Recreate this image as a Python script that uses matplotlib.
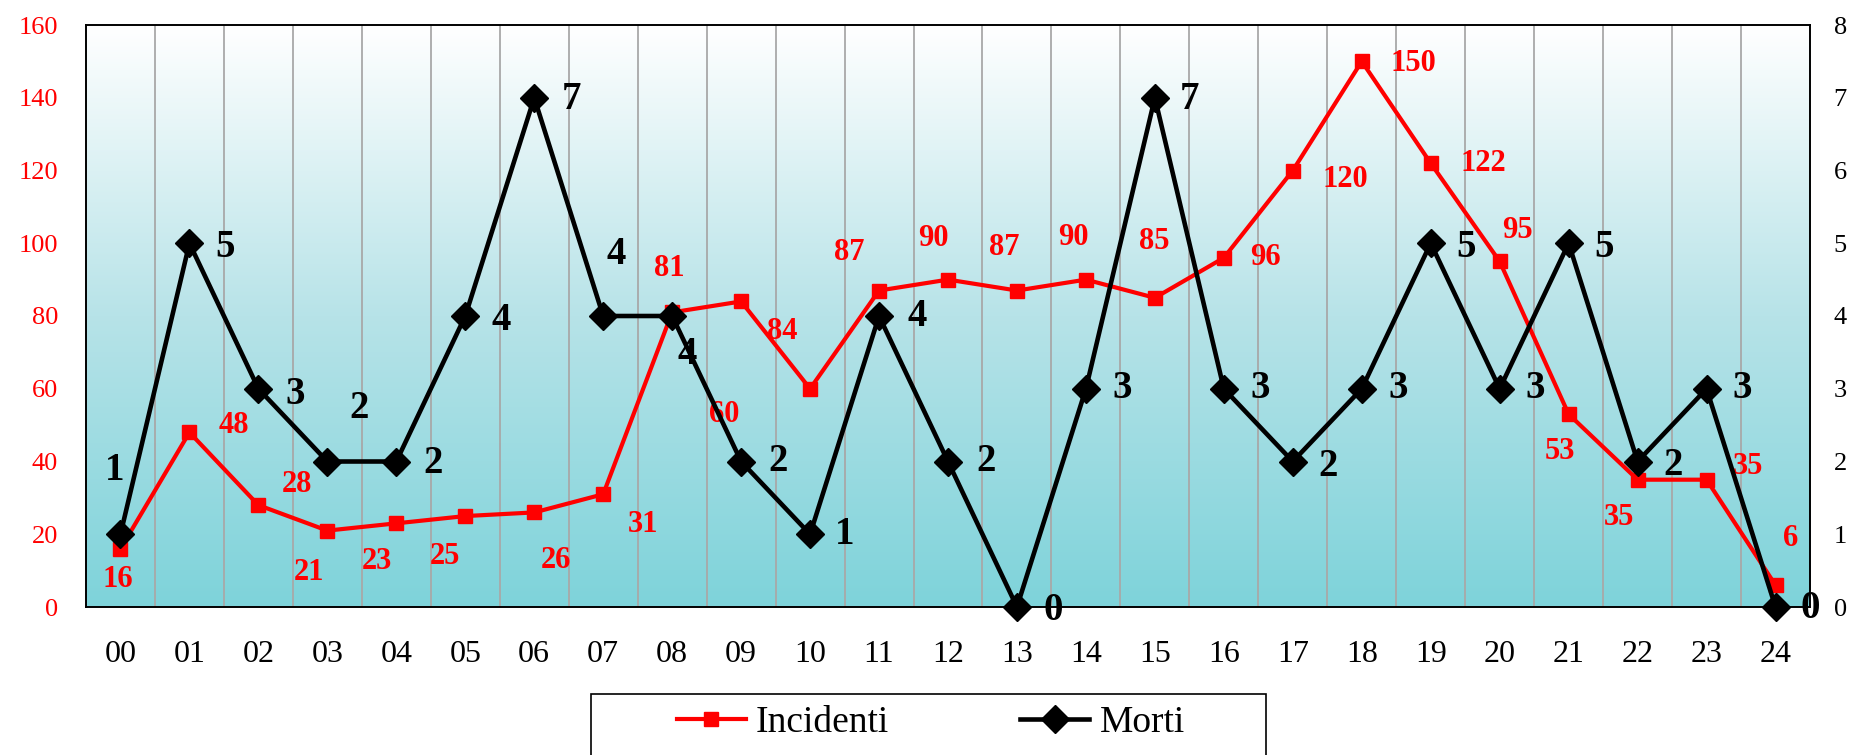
import numpy as np
import matplotlib
matplotlib.use('Agg')
import matplotlib.pyplot as plt
from matplotlib.colors import LinearSegmentedColormap
from matplotlib.patches import Rectangle

# Dati
ore = ['00', '01', '02', '03', '04', '05', '06', '07', '08', '09', '10', '11', '12',
       '13', '14', '15', '16', '17', '18', '19', '20', '21', '22', '23', '24']
incidenti = [16, 48, 28, 21, 23, 25, 26, 31, 81, 84, 60, 87, 90,
             87, 90, 85, 96, 120, 150, 122, 95, 53, 35, 35, 6]
morti = [1, 5, 3, 2, 2, 4, 7, 4, 4, 2, 1, 4, 2,
         0, 3, 7, 3, 2, 3, 5, 3, 5, 2, 3, 0]

# Posizione delle etichette (pixel rispetto al punto)
off_inc = [(-3, -31), (44, 7), (39, 21), (-18, -42), (-19, -38), (-20, -40), (22, -48),
           (40, -30), (-3, 44), (41, -30), (-86, -26), (-30, 38), (-15, 41),
           (-13, 43), (-13, 42), (-1, 56), (42, 0), (53, -9), (52, -2), (53, 0),
           (18, 31), (-9, -37), (-19, -38), (41, 13), (15, 47)]
off_mor = [(-6, 64), (36, -4), (37, -6), (32, 53), (37, -2), (36, -4), (37, -2),
           (13, 61), (15, -38), (37, 0), (35, 0), (38, 0), (38, 0),
           (36, -3), (36, 0), (35, -2), (36, 0), (35, -5), (36, 0), (35, -4),
           (36, 0), (35, -4), (35, -4), (36, 0), (35, -1)]

plt.rcParams['font.family'] = ['Liberation Serif', 'DejaVu Serif']

W, H = 1851, 755
fig = plt.figure(figsize=(W / 100, H / 100), dpi=100)
ax = fig.add_axes([86 / W, 148 / H, 1724 / W, 582 / H])
x = np.arange(len(ore))

# Sfondo sfumato
cmap = LinearSegmentedColormap.from_list('sfondo', ['#7ed3da', '#b7e3e8', '#ffffff'])
grad = np.linspace(0, 1, 256).reshape(-1, 1)
ax.imshow(grad, extent=[-0.5, len(ore) - 0.5, 0, 160], origin='lower',
          aspect='auto', cmap=cmap, zorder=0)
ax.vlines(x[:-1] + 0.5, 0, 160, color='#a8a8a8', lw=1.3, zorder=1)

l1, = ax.plot(x, incidenti, color='#ff0000', lw=3, marker='s', ms=10,
              label='Incidenti', zorder=3)
ax.set_xlim(-0.5, len(ore) - 0.5)
ax.set_ylim(0, 160)
ax.set_yticks(range(0, 161, 20))
ax.set_xticks(x)
ax.set_xticklabels(ore)
ax.tick_params(axis='y', length=0, pad=20, labelsize=19, labelcolor='#ff0000')
ax.tick_params(axis='x', length=0, pad=24, labelsize=23)

for i, v in enumerate(incidenti):
    ax.annotate(str(v), (x[i], v), xytext=off_inc[i], textcoords='offset pixels',
                ha='center', va='center', color='#ff0000', fontsize=22,
                fontweight='bold', zorder=5, annotation_clip=False)

ax2 = ax.twinx()
l2, = ax2.plot(x, morti, color='black', lw=3.3, marker='D', ms=14,
               label='Morti', zorder=4, clip_on=False)
ax2.set_ylim(0, 8)
ax2.set_yticks(range(0, 9))
ax2.tick_params(axis='y', length=0, pad=17, labelsize=19)

for i, v in enumerate(morti):
    ax2.annotate(str(v), (x[i], v), xytext=off_mor[i], textcoords='offset pixels',
                 ha='center', va='center', color='black', fontsize=28,
                 fontweight='bold', zorder=5, annotation_clip=False)

for a in (ax, ax2):
    for s in a.spines.values():
        s.set_linewidth(1.2)
        s.set_color('black')

# Legenda
fig.add_artist(Rectangle((591 / W, -0.02), 675 / W, (755 - 694) / H + 0.02,
                         transform=fig.transFigure, fill=False,
                         edgecolor='black', lw=1.2))
fig.legend(handles=[l1, l2], loc='center left', bbox_to_anchor=(658 / W, 32 / H),
           ncol=2, frameon=False, fontsize=27, handlelength=1.84, handletextpad=0.27,
           columnspacing=3.5, borderpad=0, numpoints=1)

fig.savefig('out.png', dpi=100)
